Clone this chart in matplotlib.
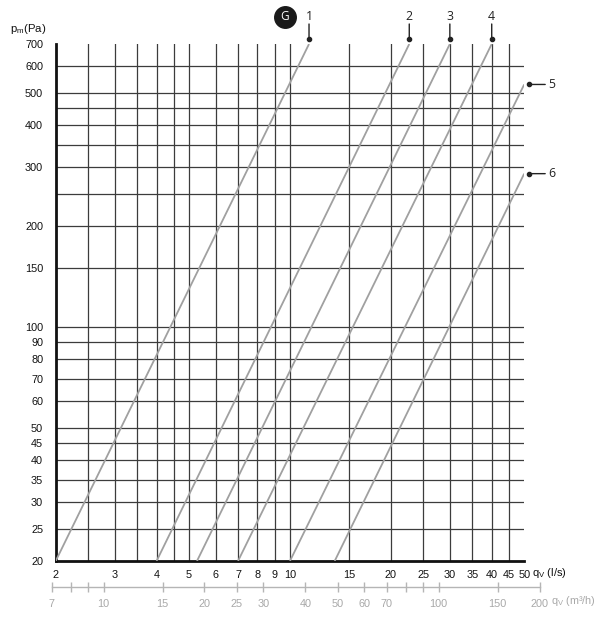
import numpy as np
import matplotlib
matplotlib.use("Agg")
import matplotlib.pyplot as plt
from matplotlib.ticker import FixedLocator, NullLocator, FixedFormatter
from matplotlib.transforms import offset_copy

# ---------------- data ----------------
q_ticks = [2, 3, 4, 5, 6, 7, 8, 9, 10, 15, 20, 25, 30, 35, 40, 45, 50]
q_grid = [2.5, 3, 3.5, 4, 4.5, 5, 6, 7, 8, 9, 10, 15, 20, 25, 30, 35, 40, 45]
p_ticks = [20, 25, 30, 35, 40, 45, 50, 60, 70, 80, 90, 100, 150, 200,
           300, 400, 500, 600, 700]
p_grid = [25, 30, 35, 40, 45, 50, 60, 70, 80, 90, 100, 150, 200, 250,
          300, 350, 400, 450, 500, 600]
m3h_labels = [7, 10, 15, 20, 25, 30, 40, 50, 60, 70, 100, 150, 200]
m3h_minor = [8, 9, 80, 90]

curve_ids = ['1', '2', '3', '4', '5', '6']
q_start = [2, 4, 5.28, 7, 10, 13.6]
p_start = [20, 20, 20, 20, 20, 20]
q_end = [11.4, 22.7, 30, 40, 50, 50]
p_end = [700, 700, 700, 700, 530, 287]
label_side = ['top', 'top', 'top', 'top', 'right', 'right']

LS_TO_M3H = 3.6

# ---------------- figure ----------------
plt.rcParams['font.family'] = ['Liberation Sans', 'DejaVu Sans']
W, H = 604, 623
fig = plt.figure(figsize=(W / 100, H / 100), dpi=100)

x0, x1 = 55.7, 524.2
y0, y1 = 561.0, 44.0
ax = fig.add_axes([x0 / W, 1 - y0 / H, (x1 - x0) / W, (y0 - y1) / H])
ax.set_xscale('log')
ax.set_yscale('log')
ax.set_xlim(2, 50)
ax.set_ylim(20, 700)

grid_col = '#3c3c3c'
for q in q_grid:
    ax.axvline(q, color=grid_col, lw=0.9, zorder=1)
for p in p_grid:
    ax.axhline(p, color=grid_col, lw=0.9, zorder=1)

for s in ['top', 'right']:
    ax.spines[s].set_visible(False)
for s in ['left', 'bottom']:
    ax.spines[s].set_linewidth(2.0)
    ax.spines[s].set_color('#111111')

ax.xaxis.set_major_locator(FixedLocator(q_ticks))
ax.xaxis.set_major_formatter(FixedFormatter([str(v) for v in q_ticks]))
ax.xaxis.set_minor_locator(NullLocator())
ax.yaxis.set_major_locator(FixedLocator(p_ticks))
ax.yaxis.set_major_formatter(FixedFormatter([str(v) for v in p_ticks]))
ax.yaxis.set_minor_locator(NullLocator())
ax.tick_params(axis='x', length=0, pad=6.5, labelsize=7.8, colors='#111111')
ax.tick_params(axis='y', length=0, pad=9, labelsize=7.8, colors='#111111')

# curves
for qs, ps, qe, pe in zip(q_start, p_start, q_end, p_end):
    ax.plot([qs, qe], [ps, pe], color='#a0a0a0', lw=1.3, zorder=3,
            solid_capstyle='butt')

# curve labels
for cid, qe, pe, side in zip(curve_ids, q_end, p_end, label_side):
    if side == 'top':
        tdot = offset_copy(ax.transData, fig=fig, x=0, y=5, units='dots')
        ax.plot([qe], [pe], 'o', ms=3, color='#222222', transform=tdot,
                clip_on=False, zorder=5)
        ax.annotate('', xy=(qe, pe), xycoords=tdot,
                    xytext=(0, 15), textcoords='offset pixels',
                    arrowprops=dict(arrowstyle='-', color='#222222', lw=1.0,
                                    shrinkA=0, shrinkB=0))
        ax.annotate(cid, xy=(qe, pe), xytext=(0, 28), textcoords='offset pixels',
                    ha='center', va='center', fontsize=8.8, color='#222222',
                    family=['Open Sans', 'DejaVu Sans'], annotation_clip=False)
    else:
        tdot = offset_copy(ax.transData, fig=fig, x=5, y=0, units='dots')
        ax.plot([qe], [pe], 'o', ms=3, color='#222222', transform=tdot,
                clip_on=False, zorder=5)
        ax.annotate('', xy=(qe, pe), xycoords=tdot,
                    xytext=(16, 0), textcoords='offset pixels',
                    arrowprops=dict(arrowstyle='-', color='#222222', lw=1.0,
                                    shrinkA=0, shrinkB=0))
        ax.annotate(cid, xy=(qe, pe), xytext=(24, 0), textcoords='offset pixels',
                    ha='left', va='center', fontsize=8.8, color='#222222',
                    family=['Open Sans', 'DejaVu Sans'], annotation_clip=False)

# G badge
fig.lines.append(plt.Line2D([285 / W], [1 - 16.5 / H], marker='o', ms=15.5,
                            color='#1a1a1a', transform=fig.transFigure))
fig.text(285 / W, 1 - 16.5 / H, 'G', ha='center', va='center', color='white',
         fontsize=8.5, family=['Open Sans', 'DejaVu Sans'])

# axis titles
fig.text(46 / W, 1 - 29 / H, r'p$_\mathregular{m}$(Pa)', ha='right', va='center',
         fontsize=8.2, color='#111111')
fig.text(532 / W, 1 - 573 / H, r'q$_\mathregular{V}$ (l/s)', ha='left', va='center',
         fontsize=8, color='#111111')

# ---------------- secondary m3/h axis ----------------
lo, hi = 7, 200
decade = (x1 - x0) / np.log10(25)
sx0 = x0 + decade * np.log10(lo / LS_TO_M3H / 2)
sx1 = x0 + decade * np.log10(hi / LS_TO_M3H / 2)
sy = 586.7
ax2 = fig.add_axes([sx0 / W, 1 - sy / H, (sx1 - sx0) / W, 0.0001])
ax2.set_xscale('log')
ax2.set_xlim(lo, hi)
ax2.set_yticks([])
for s in ['top', 'right', 'left']:
    ax2.spines[s].set_visible(False)
ax2.spines['bottom'].set_color('#b5b5b5')
ax2.spines['bottom'].set_linewidth(1.0)
ax2.patch.set_visible(False)
ax2.xaxis.set_major_locator(FixedLocator(m3h_labels))
ax2.xaxis.set_major_formatter(FixedFormatter([str(v) for v in m3h_labels]))
ax2.xaxis.set_minor_locator(FixedLocator(m3h_minor))
ax2.xaxis.set_minor_formatter(FixedFormatter([''] * len(m3h_minor)))
ax2.tick_params(axis='x', which='both', direction='inout', length=7, width=1.0,
                color='#b5b5b5', labelcolor='#a8a8a8', labelsize=7.8, pad=5)
fig.text(551 / W, 1 - 601.5 / H, r'q$_\mathregular{V}$ (m³/h)', ha='left',
         va='center', fontsize=7.8, color='#a8a8a8')

fig.savefig('out.png', dpi=100)
